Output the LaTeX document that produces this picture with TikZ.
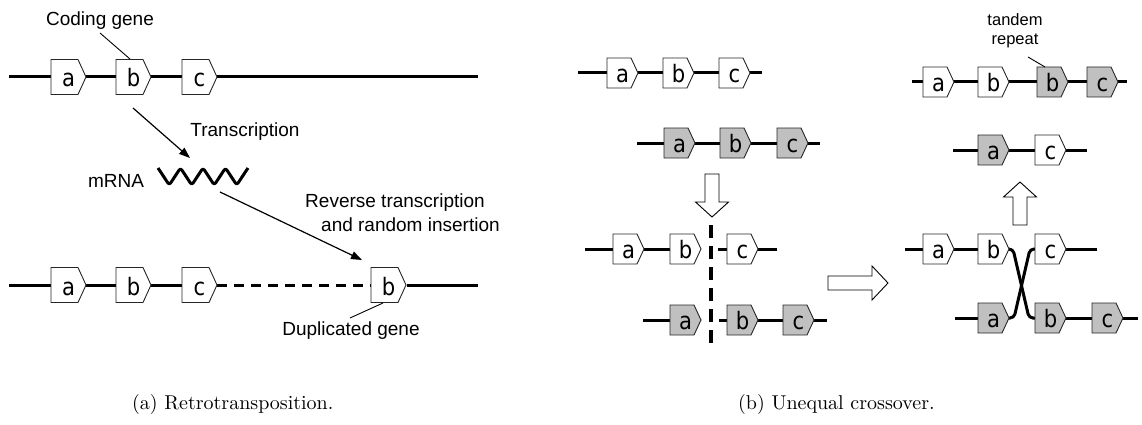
\documentclass[tikz,border=0pt]{standalone}
\usepackage{fontspec}
\setmainfont{Liberation Sans}
\newfontfamily\boxfont{DejaVu Sans}
\newfontfamily\capfont{Latin Modern Roman}
\usetikzlibrary{arrows.meta}
\definecolor{genegray}{RGB}{192,192,192}
\tikzset{
  backbone/.style={line width=3pt},
  boxline/.style={draw=black!85, line width=0.9pt},
  lett/.style={font=\boxfont\fontsize{24}{24}\selectfont, inner sep=0pt},
  lbl/.style={font=\fontsize{19}{22}\selectfont, inner sep=0pt},
  smalllbl/.style={font=\fontsize{16.5}{19}\selectfont, inner sep=0pt, align=center},
  thinarrow/.style={line width=1.2pt, -{Triangle[length=11pt,width=8pt]}},
  leader/.style={line width=0.9pt},
  blockarrow/.style={draw=black, fill=white, line width=0.9pt},
  captext/.style={inner sep=0pt, anchor=west},
}
% name, xleft, y, rect width, tip, height, fill, letter, baseline offset
\newcommand\genebox[9]{%
  \draw[boxline, fill=#7] (#2,#3-#6/2) -- ++(#4,0) -- ++(#5,#6/2) -- ++(-#5,#6/2) -- ++(-#4,0) -- cycle;
  \node[lett, anchor=base] (#1) at (#2+#4/2+#5/2,#3+#9) {\scalebox{0.88}[1]{#8}};}
\newcommand\LG[5]{\genebox{#1}{#2}{#3}{27}{8}{35}{#4}{#5}{10}}
\newcommand\SG[5]{\genebox{#1}{#2}{#3}{24}{7}{30}{#4}{#5}{9.5}}
\begin{document}
\begin{tikzpicture}[x=1pt,y=-1pt]
\useasboundingbox (0,0) rectangle (1142,425);

% ================= (a) Retrotransposition =================
\draw[backbone] (9,77) -- (478,77);
\LG{a1}{51}{77}{white}{a}
\LG{b1}{116}{77}{white}{b}
\LG{c1}{182}{77}{white}{c}

\node[lbl] (coding) at (100,21) {Coding gene};
\coordinate (codA) at (100,33);
\coordinate (codB) at (130,59);
\draw[leader] (codA) -- (codB);

\coordinate (trA) at (133,108);
\coordinate (trB) at (190,158);
\draw[thinarrow] (trA) -- (trB);
\node[lbl] (transc) at (245,132) {Transcription};

\node[lbl] (mrna) at (116,181) {mRNA};
\draw[line width=3pt, line join=round, rounded corners=2.5pt]
  (158,168) -- (169.25,185) -- (180.5,168) -- (191.75,185) -- (203,168)
  -- (214.25,185) -- (225.5,168) -- (236.75,185) -- (248,168);
\coordinate (wave) at (220,192);

\coordinate (insB) at (362,260);
\draw[thinarrow] (wave) -- (insB);
\node[lbl] (rev1) at (395,203) {Reverse transcription};
\node[lbl, anchor=west] (rev2) at (321,225) {and random insertion};

\draw[backbone] (9,285) -- (217,285);
\draw[backbone, dash pattern=on 10pt off 7pt] (217,285) -- (371,285);
\draw[backbone] (407,285) -- (478,285);
\LG{a2}{51}{285}{white}{a}
\LG{b2}{116}{285}{white}{b}
\LG{c2}{182}{285}{white}{c}
\LG{bd}{371}{285}{white}{b}

\coordinate (dupA) at (383,303);
\coordinate (dupB) at (350,318);
\draw[leader] (dupA) -- (dupB);
\node[lbl] (dup) at (351,331) {Duplicated gene};

\node[captext] (capa) at (132,404) {\scalebox{2}{\capfont\fontsize{10}{12}\selectfont (a) Retrotransposition.}};

% ================= (b) Unequal crossover =================
% row 1 left
\draw[backbone] (578,73) -- (762,73);
\SG{p1a}{607}{73}{white}{a}
\SG{p1b}{663}{73}{white}{b}
\SG{p1c}{719}{73}{white}{c}
% row 2 left
\draw[backbone] (637,143) -- (820,143);
\SG{q1a}{664}{143}{genegray}{a}
\SG{q1b}{720}{143}{genegray}{b}
\SG{q1c}{777}{143}{genegray}{c}
% down block arrow
\draw[blockarrow] (705,174) -- (719,174) -- (719,202) -- (728.5,202) -- (712,217) -- (695.5,202) -- (705,202) -- cycle;
% dashed cut
\draw[line width=4pt, dash pattern=on 13pt off 8pt] (711,225) -- (711,350);
% row 3 left
\draw[backbone] (585,249) -- (700,249);
\draw[backbone] (718,249) -- (777,249);
\SG{p2a}{613}{249}{white}{a}
\SG{p2b}{670}{249}{white}{b}
\SG{p2c}{727}{249}{white}{c}
% row 4 left
\draw[backbone] (643,320) -- (700,320);
\draw[backbone] (719,320) -- (827,320);
\SG{q2a}{670}{320}{genegray}{a}
\SG{q2b}{727}{320}{genegray}{b}
\SG{q2c}{783}{320}{genegray}{c}
% right block arrow
\draw[blockarrow] (828,276) -- (872,276) -- (872,266) -- (888,283) -- (872,300) -- (872,290) -- (828,290) -- cycle;

% row 3 right
\draw[backbone] (905,249) -- (1009,249);
\draw[backbone] (1035,249) -- (1097,249);
% row 4 right
\draw[backbone] (955,318) -- (1009,318);
\draw[backbone] (1035,318) -- (1138,318);
% crossover
\draw[backbone, rounded corners=4pt] (1007,249) -- (1013,249) -- (1029,318) -- (1037,318);
\draw[backbone, rounded corners=4pt] (1007,318) -- (1014,318) -- (1030,249) -- (1037,249);
\SG{r3a}{923}{249}{white}{a}
\SG{r3b}{978}{249}{white}{b}
\SG{r3c}{1035}{249}{white}{c}
\SG{s3a}{978}{318}{genegray}{a}
\SG{s3b}{1035}{318}{genegray}{b}
\SG{s3c}{1092}{318}{genegray}{c}
% up block arrow
\draw[blockarrow] (1013,225) -- (1027,225) -- (1027,197) -- (1036.5,197) -- (1020,182) -- (1003.5,197) -- (1013,197) -- cycle;
% row 2 right
\draw[backbone] (953,150) -- (1087,150);
\SG{r2a}{978}{150}{genegray}{a}
\SG{r2c}{1035}{150}{white}{c}
% row 1 right
\draw[backbone] (912,82) -- (1127,82);
\SG{r1a}{923}{82}{white}{a}
\SG{r1b}{978}{82}{white}{b}
\SG{r1d}{1037}{82}{genegray}{b}
\SG{r1c}{1087}{82}{genegray}{c}
\node[smalllbl] (tandem) at (1015,31) {tandem\\repeat};
\coordinate (tanA) at (1028,57);
\coordinate (tanB) at (1045,67);
\draw[leader] (tanA) -- (tanB);

\node[captext] (capb) at (738,404) {\scalebox{2}{\capfont\fontsize{10}{12}\selectfont (b) Unequal crossover.}};
\end{tikzpicture}
\end{document}
